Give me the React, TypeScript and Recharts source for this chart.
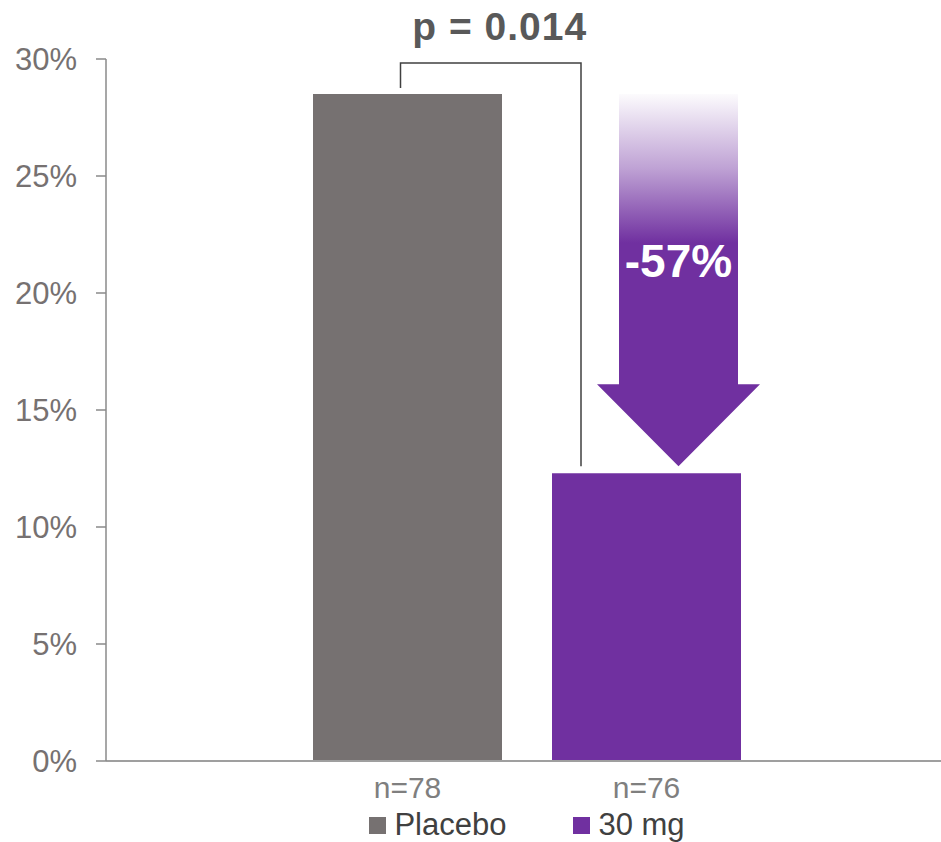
import { Bar, BarChart, LabelList, Legend, XAxis, YAxis } from "recharts";

const seriesKeys = ["placebo", "mg30"];
const seriesNames = ["Placebo", "30 mg"];
const seriesColors = ["#767171", "#7030A0"];
const eventRates = [28.5, 12.3];
const sampleSizes = [78, 76];
const yTicks = [0, 5, 10, 15, 20, 25, 30];
const pValueText = "p = 0.014";

const data = [
  { group: "All patients", [seriesKeys[0]]: eventRates[0], [seriesKeys[1]]: eventRates[1] },
];

const FONT = "Arial, 'Liberation Sans', sans-serif";
const BAR_SIZE = 189;
const BAR_GAP = 50;

const sampleSizeLabel = (n: number) => (props: any) => {
  const x = Number(props.x);
  const y = Number(props.y);
  const w = Number(props.width);
  const h = Number(props.height);
  return (
    <text x={x + w / 2} y={y + h + 37} textAnchor="middle" fontSize={30} fill="#7f7f7f" fontFamily={FONT}>
      n={n}
    </text>
  );
};

// bracket + arrow showing the relative reduction vs placebo
function ReductionLabel(props: any) {
  const x = Number(props.x);
  const y = Number(props.y);
  const w = Number(props.width);
  const h = Number(props.height);
  const value = Number(props.value);
  const base = y + h;
  const pxPerUnit = h / value;
  const refTop = base - eventRates[0] * pxPerUnit;
  const pct = Math.round((value / eventRates[0] - 1) * 100);

  const leftX = x - BAR_GAP - w / 2 - 7;
  const rightX = x + 29;
  const topY = refTop - 31;

  const cx = x + w / 2 + 32;
  const tipY = y - 7;
  const headY = tipY - 82;
  const shaft = 59.5;
  const head = 81.5;

  return (
    <g>
      <defs>
        <linearGradient id="arrowFade" gradientUnits="userSpaceOnUse" x1={0} y1={refTop} x2={0} y2={tipY}>
          <stop offset="0" stopColor="#7030A0" stopOpacity={0.02} />
          <stop offset="0.2" stopColor="#7030A0" stopOpacity={0.45} />
          <stop offset="0.4" stopColor="#7030A0" stopOpacity={1} />
          <stop offset="1" stopColor="#7030A0" stopOpacity={1} />
        </linearGradient>
      </defs>
      <polyline
        points={`${leftX},${refTop - 6} ${leftX},${topY} ${rightX},${topY} ${rightX},${tipY}`}
        fill="none"
        stroke="#404040"
        strokeWidth={1.5}
      />
      <text
        x={(leftX + rightX) / 2 + 9}
        y={topY - 23}
        textAnchor="middle"
        fontSize={39}
        fontWeight="bold"
        letterSpacing={1}
        fill="#595959"
        fontFamily={FONT}
      >
        {pValueText}
      </text>
      <path
        d={`M${cx - shaft},${refTop} L${cx + shaft},${refTop} L${cx + shaft},${headY} L${cx + head},${headY} L${cx},${tipY} L${cx - head},${headY} L${cx - shaft},${headY} Z`}
        fill="url(#arrowFade)"
      />
      <text x={cx} y={refTop + 183} textAnchor="middle" fontSize={46} fontWeight="bold" fill="#ffffff" fontFamily={FONT}>
        {pct}%
      </text>
    </g>
  );
}

const LegendBox = () => (
  <div
    style={{
      height: 40,
      display: "flex",
      justifyContent: "center",
      alignItems: "center",
      paddingLeft: 113,
      paddingTop: 6,
      boxSizing: "border-box",
      fontFamily: FONT,
      fontSize: 31,
      color: "#404040",
      gap: 67,
    }}
  >
    {seriesNames.map((name, i) => (
      <div key={name} style={{ display: "flex", alignItems: "center", gap: 8 }}>
        <span style={{ width: 17, height: 17, background: seriesColors[i], display: "inline-block" }} />
        <span>{name}</span>
      </div>
    ))}
  </div>
);

export default function App() {
  return (
    <div style={{ position: "absolute", left: 0, top: 0, background: "#fff" }}>
      <BarChart
        width={941}
        height={842}
        data={data}
        margin={{ top: 59, right: 0, bottom: 0, left: 0 }}
        barGap={BAR_GAP}
        barSize={BAR_SIZE}
      >
        <XAxis
          dataKey="group"
          tick={false}
          tickLine={false}
          height={41}
          padding={{ left: 7, right: 0 }}
          axisLine={{ stroke: "#9f9f9f", strokeWidth: 2 }}
        />
        <YAxis
          domain={[0, 30]}
          ticks={yTicks}
          interval={0}
          width={106}
          tickSize={10}
          tickMargin={19}
          tickFormatter={(v) => `${v}%`}
          tick={{ fontSize: 31, fill: "#767171", fontFamily: FONT }}
          axisLine={{ stroke: "#8a8a8a", strokeWidth: 1.5 }}
          tickLine={{ stroke: "#8a8a8a", strokeWidth: 1.5 }}
        />
        <Legend verticalAlign="bottom" content={() => <LegendBox />} />
        <Bar dataKey={seriesKeys[0]} name={seriesNames[0]} fill={seriesColors[0]} isAnimationActive={false}>
          <LabelList dataKey={seriesKeys[0]} content={sampleSizeLabel(sampleSizes[0])} />
        </Bar>
        <Bar dataKey={seriesKeys[1]} name={seriesNames[1]} fill={seriesColors[1]} isAnimationActive={false}>
          <LabelList dataKey={seriesKeys[1]} content={sampleSizeLabel(sampleSizes[1])} />
          <LabelList dataKey={seriesKeys[1]} content={ReductionLabel} />
        </Bar>
      </BarChart>
    </div>
  );
}
